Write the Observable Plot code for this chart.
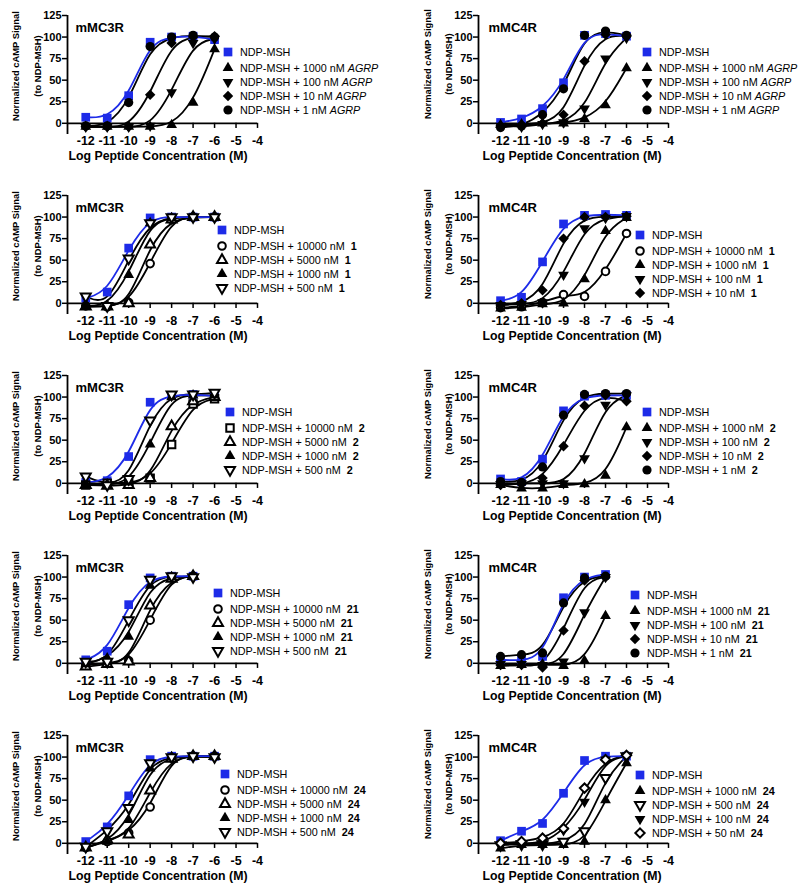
<!DOCTYPE html>
<html><head><meta charset="utf-8">
<script src="https://cdn.jsdelivr.net/npm/d3@7"></script>
<script src="https://cdn.jsdelivr.net/npm/@observablehq/plot@0.6"></script>
<style>
body{margin:0;background:#fff;width:800px;height:892px;overflow:hidden;font-family:"Liberation Sans",Arial,sans-serif;}
#grid{position:relative;width:800px;height:892px;}
.panel{position:absolute;width:400px;height:180px;}
.panel svg{overflow:visible;}
.lrow{position:absolute;display:flex;align-items:center;font-size:10.8px;white-space:nowrap;color:#000;line-height:12px;}
.lig-i{font-style:italic;}
.lig-b{font-weight:bold;}
</style></head><body><div id="grid"></div>
<script>
// ---------- data ----------
const logConc = [-12, -11, -10, -9, -8, -7, -6];
const logConcShort = [-12, -11, -10, -9, -8, -7];
const xTicks = [-12, -11, -10, -9, -8, -7, -6, -5, -4];
const yTicks = [0, 25, 50, 75, 100, 125];

const panelTitles = ["mMC3R", "mMC4R", "mMC3R", "mMC4R", "mMC3R", "mMC4R", "mMC3R", "mMC4R", "mMC3R", "mMC4R"];
const panelLigands = ["AGRP", "AGRP", "1", "1", "2", "2", "21", "21", "24", "24"];
const panelDoses = [
  [1000, 100, 10, 1],
  [1000, 100, 10, 1],
  [10000, 5000, 1000, 500],
  [10000, 1000, 100, 10],
  [10000, 5000, 1000, 500],
  [1000, 100, 10, 1],
  [10000, 5000, 1000, 500],
  [1000, 100, 10, 1],
  [10000, 5000, 1000, 500],
  [1000, 500, 100, 50]
];
const panelSymbols = [
  ["ndp", "upF", "downF", "diaF", "cirF"],
  ["ndp", "upF", "downF", "diaF", "cirF"],
  ["ndp", "cirO", "upO", "upF", "downO"],
  ["ndp", "cirO", "upF", "downF", "diaF"],
  ["ndp", "sqO", "upO", "upF", "downO"],
  ["ndp", "upF", "downF", "diaF", "cirF"],
  ["ndp", "cirO", "upO", "upF", "downO"],
  ["ndp", "upF", "downF", "diaF", "cirF"],
  ["ndp", "cirO", "upO", "upF", "downO"],
  ["ndp", "upF", "downO", "downF", "diaO"]
];

// series values (NDP-MSH first, then the legend order)
const mc3rAgrp = [
  [7, 6, 32, 94, 100, 101, 97],
  [-4, -4, -4, -4, -2, 24, 86],
  [-4, -4, -4, -3, 36, 93, 98],
  [-4, -4, -4, 33, 93, 100, 101],
  [-3, -3, 24, 89, 100, 102, 100]
];
const mc4rAgrp = [
  [1, 5, 17, 47, 102, 104, 101],
  [-2, -1, 0, 0, 5, 21, 64],
  [-3, -4, -1, 1, 17, 75, 99],
  [-3, -2, 0, 10, 72, 103, 101],
  [-5, -3, 10, 40, 102, 107, 102]
];
const mc3rCpd1 = [
  [6, 13, 64, 99, 100, 100, 100],
  [-3, -4, 1, 46, 97, 100, 100],
  [-4, -4, 0, 68, 97, 100, 100],
  [-3, -3, 33, 93, 99, 100, 100],
  [8, -3, 52, 93, 100, 100, 100]
];
const mc4rCpd1 = [
  [3, 7, 48, 92, 102, 103, 102],
  [-5, -4, 1, 10, 8, 37, 81],
  [-6, -5, -1, 0, 28, 84, 99],
  [-2, -1, 1, 33, 87, 99, 101],
  [-2, 0, 15, 75, 100, 100, 101]
];
const mc3rCpd2 = [
  [1, 3, 31, 94, 102, 103, 101],
  [-2, 0, 0, 6, 45, 92, 98],
  [-2, -3, -2, 6, 66, 95, 100],
  [-2, -2, 1, 45, 100, 102, 102],
  [8, -2, 5, 73, 103, 103, 105]
];
const mc4rCpd2 = [
  [5, 2, 28, 84, 101, 102, 102],
  [-2, -6, -6, -2, -1, 9, 65],
  [-1, 0, 0, 0, 29, 91, 102],
  [-2, -1, 6, 43, 90, 102, 95],
  [2, 1, 19, 79, 103, 104, 104]
];
const mc3rCpd21 = [
  [4, 14, 68, 99, 101, 101],
  [-2, 0, 3, 50, 99, 101],
  [-4, -1, 2, 67, 98, 101],
  [-1, 6, 31, 90, 100, 101],
  [2, 2, 50, 97, 101, 100]
];
const mc4rCpd21 = [
  [4, 3, 8, 76, 100, 103],
  [-3, -2, -1, -3, 3, 55],
  [-1, -1, -2, 2, 59, 100],
  [-2, -2, -5, 38, 96, 100],
  [8, 10, 12, 70, 99, 101]
];
const mc3rCpd24 = [
  [2, 19, 55, 97, 101, 101, 101],
  [-5, 2, 12, 42, 99, 101, 101],
  [-5, 4, 10, 61, 98, 101, 101],
  [-5, 2, 27, 87, 100, 101, 100],
  [-4, 14, 41, 93, 100, 101, 100]
];
const mc4rCpd24 = [
  [3, 14, 23, 58, 96, 101, 101],
  [-6, -2, -2, -2, 2, 50, 93],
  [-2, -1, -1, 2, 14, 76, 101],
  [-2, 0, 0, 15, 48, 97, 101],
  [0, 2, 6, 17, 64, 97, 102]
];
const panelValues = [mc3rAgrp, mc4rAgrp, mc3rCpd1, mc4rCpd1, mc3rCpd2, mc4rCpd2, mc3rCpd21, mc4rCpd21, mc3rCpd24, mc4rCpd24];
const panelConc = [logConc, logConc, logConc, logConc, logConc, logConc, logConcShort, logConcShort, logConc, logConc];

// ---------- styles / layout ----------
const BLUE = "#1d2be8";
const triangleDown = {
  draw(context, size) {
    const y = -Math.sqrt(size / (Math.sqrt(3) * 3));
    context.moveTo(0, -y * 2);
    context.lineTo(-Math.sqrt(3) * y, y);
    context.lineTo(Math.sqrt(3) * y, y);
    context.closePath();
  }
};
const symbolTypes = {square: d3.symbolSquare, triangle: d3.symbolTriangle, diamond2: d3.symbolDiamond2, circle: d3.symbolCircle};
const symbolStyle = {
  ndp:   {symbol: "square", fill: BLUE, r: 4.9},
  upF:   {symbol: "triangle", fill: "#000", r: 4.0},
  downF: {symbol: triangleDown, fill: "#000", r: 4.0},
  diaF:  {symbol: "diamond2", fill: "#000", r: 4.7},
  cirF:  {symbol: "circle", fill: "#000", r: 4.6},
  cirO:  {symbol: "circle", fill: "#fff", stroke: "#000", r: 3.8},
  upO:   {symbol: "triangle", fill: "#fff", stroke: "#000", r: 3.7},
  downO: {symbol: triangleDown, fill: "#fff", stroke: "#000", r: 3.7},
  sqO:   {symbol: "square", fill: "#fff", stroke: "#000", r: 4.2},
  diaO:  {symbol: "diamond2", fill: "#fff", stroke: "#000", r: 4.2}
};
const legendX = [228, 247, 222, 240, 230, 247, 218, 235, 225, 240];
const legendY = [52, 52, 50, 55, 52, 52, 53, 55, 54, 55];
const legendStep = [0, 16, 30, 44, 58];

function symbolPath(key) {
  const st = symbolStyle[key];
  const type = typeof st.symbol === "string" ? symbolTypes[st.symbol] : st.symbol;
  return d3.symbol(type, Math.PI * st.r * st.r)();
}

const grid = document.getElementById("grid");
const FONT = "Liberation Sans, Arial, sans-serif";

function makePanel(i) {
  const col = i % 2, row = Math.floor(i / 2);
  const xDomain = col === 0 ? [-12.85, -4] : [-13.05, -4];
  const mLeft = col === 0 ? 67 : 78;
  const mRight = col === 0 ? 143 : 132;
  const xs = panelConc[i];
  const vals = panelValues[i];
  const syms = panelSymbols[i];
  const series = vals.map((v, s) => xs.map((x, j) => ({x, y: v[j], s})));

  const marks = [];
  const order = [...vals.keys()].slice(1).concat([0]);
  for (const s of order) {
    marks.push(Plot.line(series[s], {x: "x", y: "y", curve: "basis", stroke: s === 0 ? BLUE : "#000", strokeWidth: 1.8}));
  }
  marks.push(Plot.ruleY([0], {stroke: "#000", strokeWidth: 1.8}));
  marks.push(Plot.ruleX(xTicks, {x: d => d, y1: 0, y2: -6, stroke: "#000", strokeWidth: 1.5}));
  marks.push(Plot.ruleX([xDomain[0]], {stroke: "#000", strokeWidth: 1.8}));
  marks.push(Plot.axisY({ticks: yTicks, tickSize: 5, tickPadding: 1, fontSize: 11, fontWeight: "bold", strokeWidth: 1.5, label: null}));
  marks.push(Plot.axisX({ticks: xTicks, tickSize: 0, tickPadding: 2, fontSize: 12.5, fontWeight: "bold", tickFormat: d => String(d), label: null}));
  for (let s = 0; s < vals.length; s++) {
    const st = symbolStyle[syms[s]];
    marks.push(Plot.dot(series[s], {
      x: "x", y: "y", symbol: st.symbol, r: st.r,
      fill: st.fill, stroke: st.stroke || "none", strokeWidth: st.stroke ? 2 : 0
    }));
  }
  marks.push(Plot.text([panelTitles[i]], {frameAnchor: "top-left", dx: col === 0 ? 8 : 10, dy: 12, textAnchor: "start", lineAnchor: "middle", fontSize: 13, fontWeight: "bold"}));

  const svg = Plot.plot({
    width: 400, height: 180,
    marginLeft: mLeft, marginRight: mRight, marginTop: 15, marginBottom: 46,
    x: {domain: xDomain},
    y: {domain: [-13, 125]},
    style: {fontFamily: FONT, color: "#000", background: "transparent", overflow: "visible"},
    marks
  });

  const sel = d3.select(svg);
  const yl1 = col === 0 ? 15 : 27, yl2 = col === 0 ? 37 : 48, ylc = col === 0 ? 66 : 64;
  [["Normalized cAMP Signal", yl1], ["(to NDP-MSH)", yl2]].forEach(([t, x]) => {
    sel.append("text").attr("transform", `translate(${x},${ylc}) rotate(-90)`)
      .attr("text-anchor", "middle").attr("dominant-baseline", "central")
      .attr("font-size", 9.4).attr("font-weight", "bold").attr("fill", "#000")
      .attr("font-family", FONT).text(t);
  });
  sel.append("text").attr("x", col === 0 ? 158 : 172).attr("y", 156)
    .attr("text-anchor", "middle").attr("dominant-baseline", "central")
    .attr("font-size", 12.3).attr("font-weight", "bold").attr("fill", "#000")
    .attr("font-family", FONT)
    .text("Log Peptide Concentration (M)");

  const div = document.createElement("div");
  div.className = "panel";
  div.style.left = (col * 400) + "px";
  div.style.top = (row * 180) + "px";
  div.appendChild(svg);

  for (let s = 0; s < vals.length; s++) {
    const r = document.createElement("div");
    r.className = "lrow";
    r.style.left = (legendX[i] - 7) + "px";
    r.style.top = (legendY[i] + legendStep[s] - 7) + "px";
    const st = symbolStyle[syms[s]];
    const sv = d3.create("svg").attr("width", 19).attr("height", 14);
    sv.append("path").attr("d", symbolPath(syms[s])).attr("transform", "translate(7,7)")
      .attr("fill", st.fill).attr("stroke", st.stroke || "none").attr("stroke-width", st.stroke ? 2 : 0);
    r.appendChild(sv.node());
    const lab = document.createElement("span");
    if (s === 0) {
      lab.textContent = "NDP-MSH";
    } else {
      const lig = panelLigands[i];
      lab.appendChild(document.createTextNode(`NDP-MSH + ${panelDoses[i][s - 1]} nM `));
      const b = document.createElement("span");
      b.className = lig === "AGRP" ? "lig-i" : "lig-b";
      b.textContent = lig === "AGRP" ? lig : "\u00a0" + lig;
      lab.appendChild(b);
    }
    r.appendChild(lab);
    div.appendChild(r);
  }
  grid.appendChild(div);
}

for (let i = 0; i < panelValues.length; i++) makePanel(i);
</script>
</body></html>
